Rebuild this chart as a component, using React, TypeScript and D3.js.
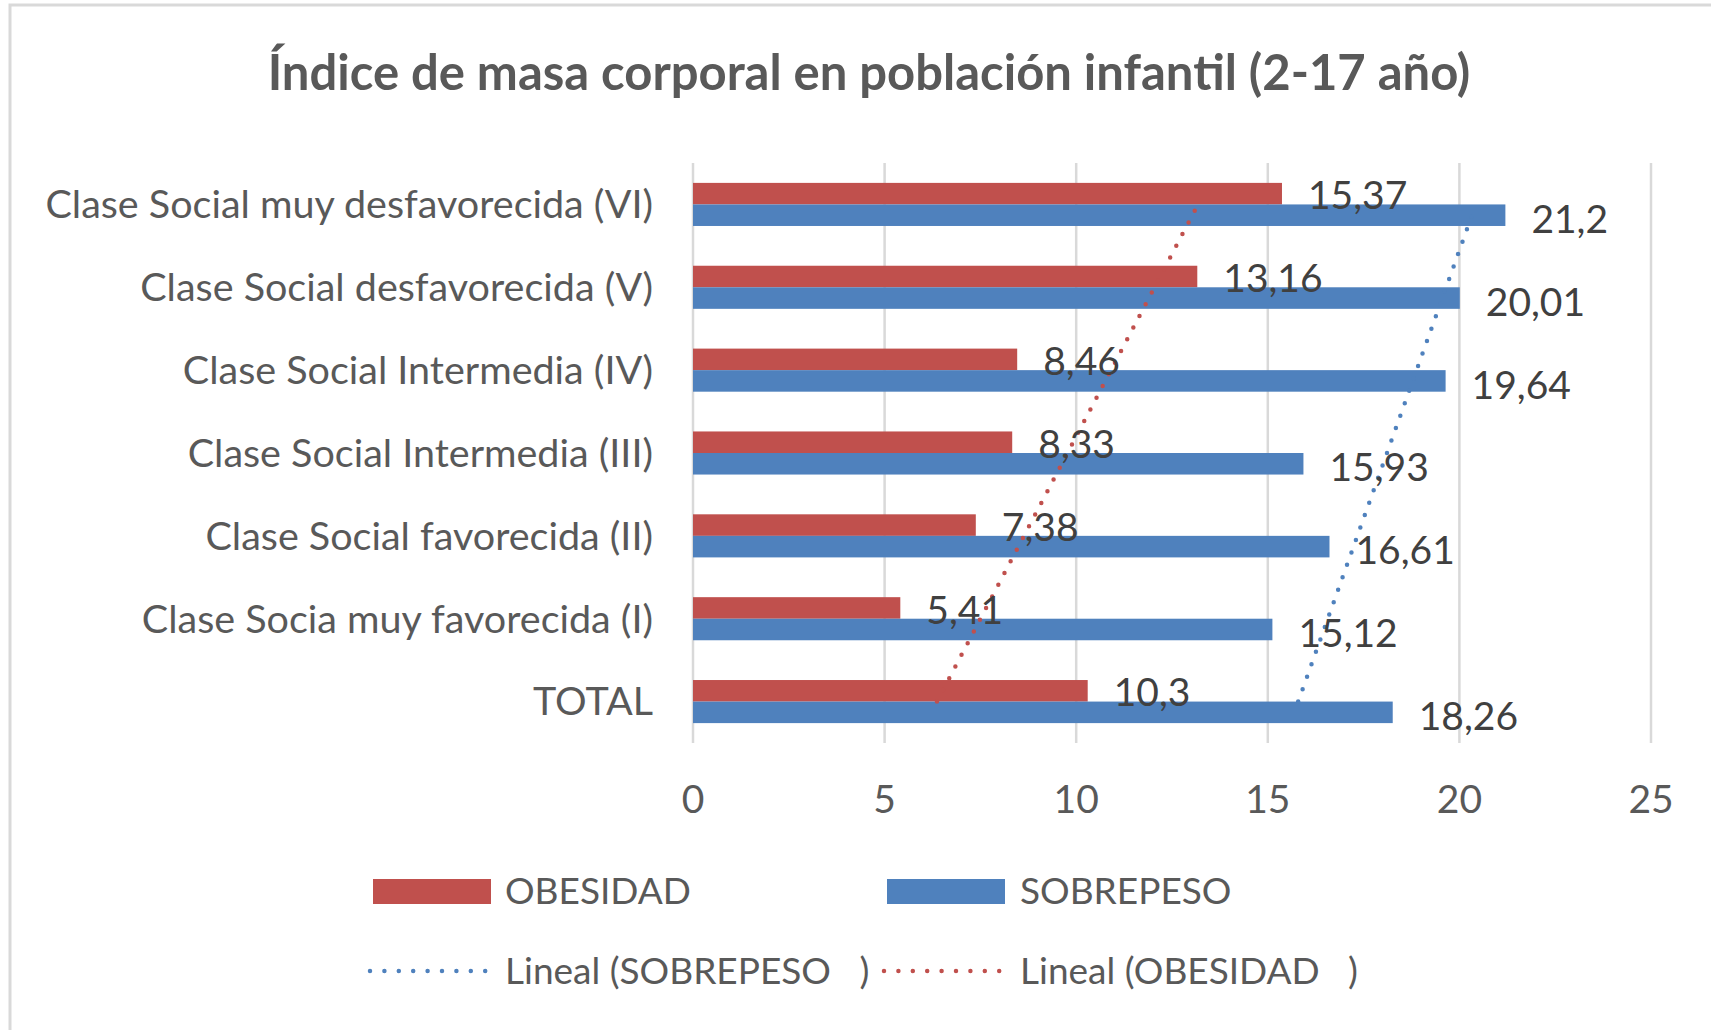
import React from 'react'
import * as d3 from 'd3'

// data in Excel's category order (first = bottom of the chart)
const categories = [
  'TOTAL',
  'Clase Socia muy favorecida (I)',
  'Clase Social favorecida (II)',
  'Clase Social Intermedia (III)',
  'Clase Social Intermedia (IV)',
  'Clase Social desfavorecida (V)',
  'Clase Social muy desfavorecida (VI)',
]
const obesidad = [10.3, 5.41, 7.38, 8.33, 8.46, 13.16, 15.37]
const sobrepeso = [18.26, 15.12, 16.61, 15.93, 19.64, 20.01, 21.2]
const xTicks = [0, 5, 10, 15, 20, 25]

const RED = '#C0504D'
const BLUE = '#4F81BD'
const GRID = '#d9d9d9'
const FONT = 'Lato, "Open Sans", sans-serif'

// least squares line over category index 1..n, like Excel's "Lineal" trendline
function linearFit(vals: number[]) {
  const xs = vals.map((_, i) => i + 1)
  const mx = d3.mean(xs) as number
  const my = d3.mean(vals) as number
  const slope = d3.sum(xs, (x, i) => (x - mx) * (vals[i] - my)) / d3.sum(xs, x => (x - mx) ** 2)
  return (x: number) => my + slope * (x - mx)
}

const fmt = (v: number) => String(v).replace('.', ',')

export default function App() {
  const width = 1711, height = 1030
  const x = d3.scaleLinear().domain([0, 25]).range([693, 1651])
  const y = d3.scaleBand<string>().domain([...categories].reverse()).range([163, 743])
  const bw = y.bandwidth()
  const barH = bw * 0.26
  const mid = (c: string) => (y(c) as number) + bw / 2

  const trend = (vals: number[]) => {
    const f = linearFit(vals)
    const n = vals.length
    return d3.line<number>()
      .x(i => x(f(i + 1)))
      .y(i => mid(categories[i]))([0, n - 1])
  }

  const dots = { strokeWidth: 4.5, strokeDasharray: '0 13.2', strokeLinecap: 'round' as const, fill: 'none' }

  return (
    <svg width={width} height={height} style={{ position: 'absolute', left: 0, top: 0, background: '#fff' }}
      fontFamily={FONT}>
      <rect x={10} y={5} width={1800} height={1100} fill="#fff" stroke={GRID} strokeWidth={3} />

      <text x={869} y={90} textAnchor="middle" fontSize={49} fontWeight={700} fill="#595959">
        Índice de masa corporal en población infantil (2-17 año)
      </text>

      {xTicks.map(t => (
        <g key={t}>
          <line x1={x(t)} x2={x(t)} y1={163} y2={743} stroke={GRID} strokeWidth={2.5} />
          <text x={x(t)} y={813} textAnchor="middle" fontSize={39} fill="#595959">{t}</text>
        </g>
      ))}

      {categories.map((c, i) => (
        <g key={c}>
          <rect x={x(0)} y={mid(c) - barH} width={x(obesidad[i]) - x(0)} height={barH} fill={RED} />
          <rect x={x(0)} y={mid(c)} width={x(sobrepeso[i]) - x(0)} height={barH} fill={BLUE} />
          <text x={653} y={mid(c)} dy="0.35em" textAnchor="end" fontSize={39.5} fill="#595959">{c}</text>
        </g>
      ))}

      <path d={trend(obesidad) as string} stroke={RED} {...dots} />
      <path d={trend(sobrepeso) as string} stroke={BLUE} {...dots} />

      {categories.map((c, i) => (
        <g key={'l' + c} fontSize={39} fill="#404040">
          <text x={x(obesidad[i]) + 26} y={mid(c) - barH / 2 + 2} dy="0.35em">{fmt(obesidad[i])}</text>
          <text x={x(sobrepeso[i]) + 26} y={mid(c) + barH / 2 + 4} dy="0.35em">{fmt(sobrepeso[i])}</text>
        </g>
      ))}

      <g fontSize={37} fill="#595959">
        <rect x={373} y={879} width={118} height={25} fill={RED} />
        <text x={505} y={891} dy="0.35em">OBESIDAD</text>
        <rect x={887} y={879} width={118} height={25} fill={BLUE} />
        <text x={1020} y={891} dy="0.35em">SOBREPESO</text>
        <line x1={370} x2={486} y1={971} y2={971} stroke={BLUE} {...dots} strokeDasharray="0 14.4" />
        <text x={505} y={971} dy="0.35em">{'Lineal (SOBREPESO\u00a0\u00a0\u00a0)'}</text>
        <line x1={884} x2={1000} y1={971} y2={971} stroke={RED} {...dots} strokeDasharray="0 14.4" />
        <text x={1020} y={971} dy="0.35em">{'Lineal (OBESIDAD\u00a0\u00a0\u00a0)'}</text>
      </g>
    </svg>
  )
}
